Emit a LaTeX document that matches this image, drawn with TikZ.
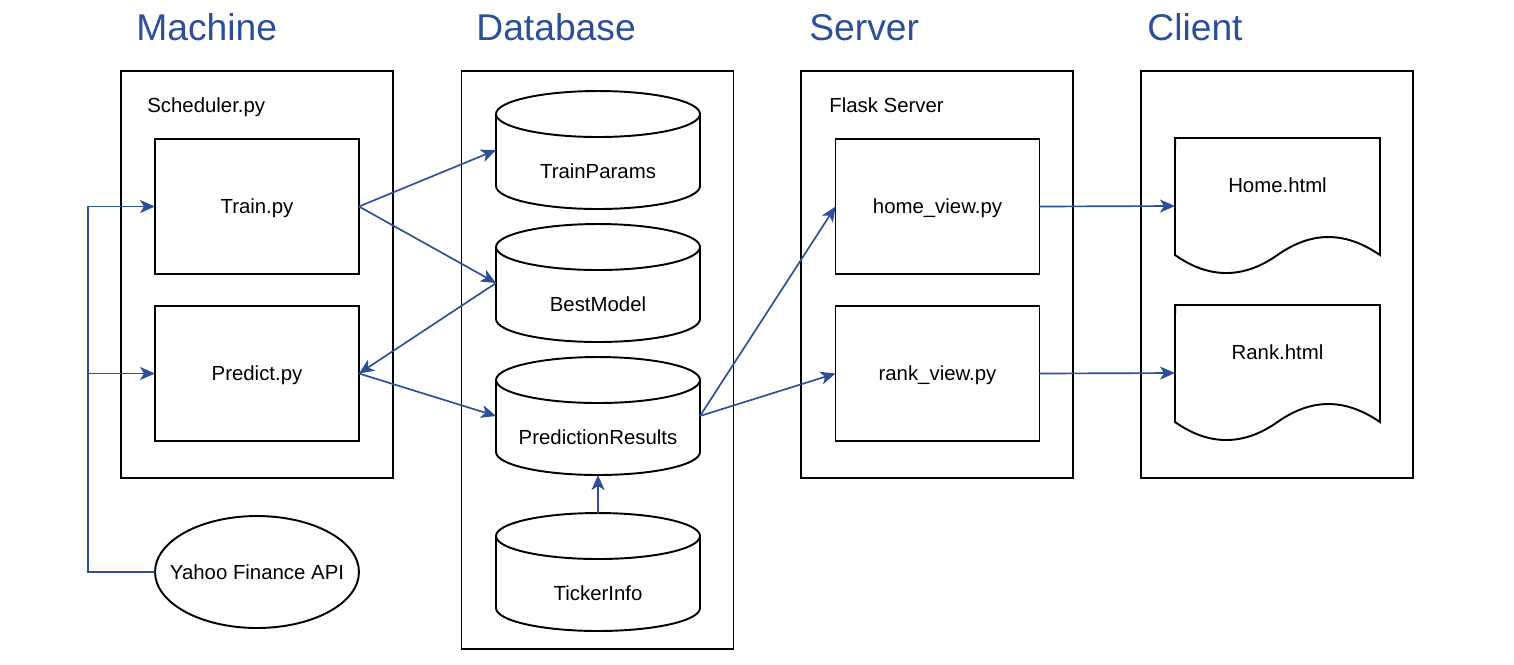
\documentclass[tikz,border=0pt]{standalone}
\usepackage{fontspec}
\setmainfont{Liberation Sans}
\usetikzlibrary{arrows.meta}
\definecolor{flowblue}{RGB}{44,79,152}

\begin{document}
\begin{tikzpicture}[x=0.02cm,y=-0.02cm,
            every node/.style={font=\fontsize{11.6}{13}\selectfont},
            title/.style={anchor=base west,inner sep=0pt,text=flowblue,font=\fontsize{21.2}{24}\selectfont},
            caption/.style={anchor=base west,inner sep=0pt},
            panel/.style={draw,line width=1.1pt,minimum width=5.44cm,outer sep=0pt},
            proc/.style={draw,line width=1.1pt,minimum width=4.08cm,minimum height=2.7cm,outer sep=0pt,text height=8.3pt,text depth=0pt},
            cyl/.style={minimum width=4.08cm,minimum height=2.36cm,outer sep=0pt,inner sep=0pt,text height=32pt,text depth=0pt},
            doc/.style={minimum width=4.1cm,minimum height=2.72cm,outer sep=0pt,text height=8pt,text depth=23pt},
            outline/.style={line width=1.1pt},
            flow/.style={draw=flowblue,line width=0.95pt,-{Stealth[length=0.3cm,width=0.26cm,inset=0.08cm]}}]
            \useasboundingbox (0,0) rectangle (1514,664);
            % columns
            \node[title] at (136,40) {Machine};
            \node[title] at (476,40) {Database};
            \node[title] at (809,40) {Server};
            \node[title] at (1147,40) {Client};
            \node[panel,minimum height=8.14cm] (machine) at (257,274.5) {};
            \node[panel,minimum height=11.56cm] (database) at (597.5,360) {};
            \node[panel,minimum height=8.14cm] (server) at (937,274.5) {};
            \node[panel,minimum height=8.14cm] (client) at (1277,274.5) {};
            \node[caption] at (147,112) {Scheduler.py};
            \node[caption] at (829,112) {Flask Server};

            \node[proc] (train) at (257,206.5) {Train.py};
            \node[proc] (predict) at (257,373.5) {Predict.py};
            \node[minimum width=4.08cm,minimum height=2.24cm,outer sep=0pt,text height=8.3pt,text depth=0pt] (yahoo) at (257,572) {Yahoo Finance API};
            \draw[outline] (yahoo.center) ellipse [x radius=2.04cm,y radius=1.12cm];

            \node[cyl] (trainparams) at (598,150) {TrainParams};
            \node[cyl] (bestmodel) at (598,283) {BestModel};
            \node[cyl] (results) at (598,416) {PredictionResults};
            \node[cyl] (tickerinfo) at (598,572) {TickerInfo};
            \foreach \n in {trainparams,bestmodel,results,tickerinfo}{
                \draw[outline] ([yshift=-0.46cm]\n.north) ellipse [x radius=2.04cm,y radius=0.46cm];
                \draw[outline] ([yshift=-0.46cm]\n.north west) -- ([yshift=0.46cm]\n.south west)
                    arc[start angle=180,end angle=360,x radius=2.04cm,y radius=0.46cm] -- ([yshift=-0.46cm]\n.north east);
            }

            \node[proc] (homeview) at (937.5,206.5) {home\_view.py};
            \node[proc] (rankview) at (937.5,373.5) {rank\_view.py};

            \node[doc] (homepage) at (1277.5,206) {Home.html};
            \node[doc] (rankpage) at (1277.5,373) {Rank.html};
            \foreach \n in {homepage,rankpage}{
                \draw[outline] (\n.north west) -- (\n.north east) -- ++(0,117)
                    .. controls +(-35,-24) and +(34,-24) .. ++(-102.5,0)
                    .. controls +(-34,24) and +(34,24) .. ++(-102.5,0) -- cycle;
            }

            % connectors
            \coordinate (bus) at (88,572);
            \draw[flow] (yahoo.west) -- (bus) |- (train.west);
            \draw[flow] (bus) |- (predict.west);
            \draw[flow] (train.east) -- (trainparams.west);
            \draw[flow] (train.east) -- (bestmodel.west);
            \draw[flow] (bestmodel.west) -- (predict.east);
            \draw[flow] (predict.east) -- (results.west);
            \draw[flow] (tickerinfo.north) -- (results.south);
            \draw[flow] (results.east) -- (homeview.west);
            \draw[flow] (results.east) -- (rankview.west);
            \draw[flow] (homeview.east) -- (homepage.west);
            \draw[flow] (rankview.east) -- (rankpage.west);
        \end{tikzpicture}
\end{document}
